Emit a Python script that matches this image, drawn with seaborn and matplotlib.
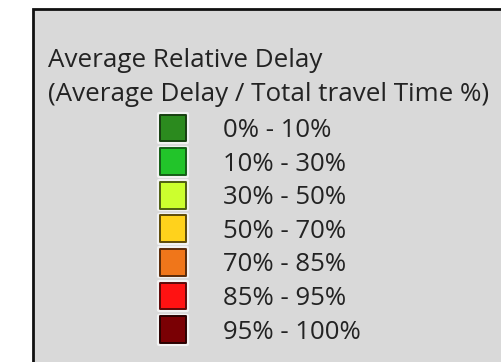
import matplotlib
matplotlib.use("Agg")
import matplotlib.pyplot as plt
from matplotlib.patches import Rectangle
import pandas as pd
import seaborn as sns

# Legend content: delay classes and their map colours
classes = ["0% - 10%", "10% - 30%", "30% - 50%", "50% - 70%",
           "70% - 85%", "85% - 95%", "95% - 100%"]
fill_colors = ["#2b8a1e", "#22c42a", "#ccff2e", "#ffd21c",
               "#f0761a", "#ff1212", "#7a0004"]
edge_colors = ["#173f10", "#145e17", "#4f5f12", "#5e4b08",
               "#5a2a08", "#5e0808", "#2a0000"]
title_lines = ["Average Relative Delay",
               "(Average Delay / Total travel Time %)"]

sns.set_theme(style="white")
plt.rcParams["font.family"] = ["Open Sans", "DejaVu Sans"]

W, H = 502, 362
fig = plt.figure(figsize=(W / 100, H / 100), dpi=100, facecolor="white")

# Grey legend panel with a black frame (runs off the right/bottom edge)
panel = Rectangle((33 / W, -0.05), 1.2, (H - 9) / H + 0.05,
                  transform=fig.transFigure, facecolor="#d9d9d9",
                  edgecolor="#111111", linewidth=2.0, zorder=-5)
fig.patches.append(panel)

text_color = "#232323"
fig.text(48 / W, 1 - 67 / H, title_lines[0], fontsize=18.7,
         color=text_color, va="baseline", ha="left")
fig.text(48 / W, 1 - 101 / H, title_lines[1], fontsize=18.7,
         color=text_color, va="baseline", ha="left")

# Axes holding the colour swatches, one category per row
row_h = 33.6
ax_top = 128 - row_h / 2
ax_h = row_h * len(classes)
ax = fig.add_axes([150 / W, 1 - (ax_top + ax_h) / H, 250 / W, ax_h / H])
ax.set_facecolor("none")
ax.set_zorder(2)

df = pd.DataFrame({"x": [0] * len(classes), "cls": classes})

# soft white halo behind each swatch
sns.scatterplot(data=df, x="x", y="cls", marker="s", s=430,
                color="#f2f2f2", edgecolor="#f2f2f2", linewidth=3,
                ax=ax, legend=False, zorder=2)
sns.scatterplot(data=df, x="x", y="cls", hue="cls", palette=fill_colors,
                marker="s", s=370, edgecolor=edge_colors, linewidth=1.4,
                ax=ax, legend=False, zorder=3)

for i, lab in enumerate(classes):
    ax.text(50, i + 0.27, lab, fontsize=18.5, color=text_color,
            va="baseline", ha="left")

ax.set_xlim(-23, 227)
ax.set_ylim(len(classes) - 0.5, -0.5)
ax.set_axis_off()

fig.savefig("out.png", dpi=100, facecolor="white")
